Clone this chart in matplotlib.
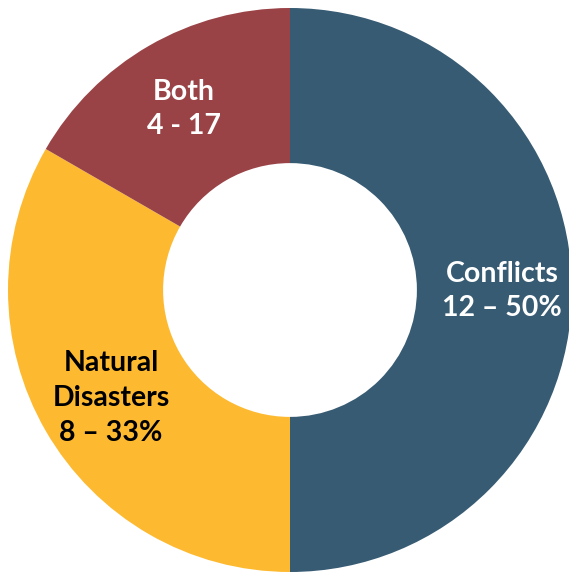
import matplotlib.pyplot as plt

categories = ["Conflicts", "Natural Disasters", "Both"]
counts = [12, 8, 4]
labels = ["Conflicts\n12 \u2013 50%", "Natural\nDisasters\n8 \u2013 33%", "Both\n4 - 17"]
colors = ["#375B73", "#FDBA31", "#9A4347"]
text_colors = ["white", "black", "white"]

fig = plt.figure(figsize=(5.69, 5.73), dpi=100)
ax = fig.add_axes([0, 0, 1, 1])

cx, cy, R = 290, 283, 282
wedges, _ = ax.pie(counts, colors=colors, startangle=90, counterclock=False,
                   center=(cx, cy), radius=R, frame=True,
                   wedgeprops=dict(width=R * 0.55, linewidth=0))
ax.set_xlim(0, 569)
ax.set_ylim(0, 573)
ax.set_aspect("equal")
ax.axis("off")

# label positions (pixel coords from top)
pos = [(502, 291), (111, 398), (184, 109)]
for lab, (x, y), c in zip(labels, pos, text_colors):
    ax.text(x, 573 - y, lab, ha="center", va="center", color=c,
            fontsize=20.5, fontweight="bold", family=["Lato", "DejaVu Sans"],
            linespacing=1.42)

fig.savefig("out.png", dpi=100)
